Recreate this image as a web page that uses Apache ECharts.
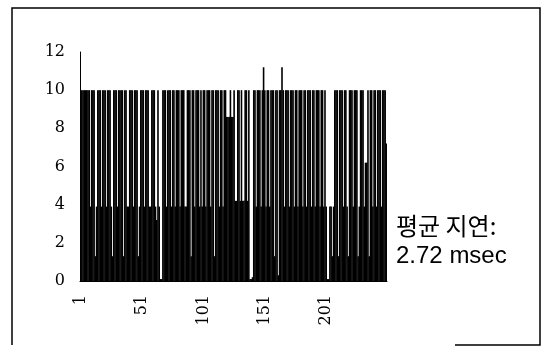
<!DOCTYPE html>
<html>
<head>
<meta charset="utf-8">
<script src="https://cdn.jsdelivr.net/npm/echarts@6/dist/echarts.min.js"></script>
<style>
  html, body { margin: 0; padding: 0; background: #fff; }
  #chart { width: 548px; height: 356px; }
</style>
</head>
<body>
<div id="chart"></div>
<script>
// delay per sample (msec)
const delays = [
  10, 10, 10, 10, 10, 10, 10, 10, 3.9, 10,
  10, 10, 1.3, 3.9, 10, 10, 10, 3.9, 10, 10,
  10, 3.9, 10, 10, 10, 3.9, 1.3, 10, 10, 10,
  3.9, 10, 10, 10, 10, 1.3, 10, 10, 3.9, 3.9,
  10, 10, 10, 3.9, 10, 10, 10, 1.3, 3.9, 10,
  10, 10, 3.9, 10, 10, 10, 3.9, 3.9, 10, 10,
  10, 3.9, 3.2, 10, 3.9, 0.1, 0.1, 10, 10, 10,
  3.9, 10, 10, 10, 3.9, 10, 10, 3.9, 10, 10,
  10, 3.9, 10, 10, 10, 3.9, 3.9, 10, 10, 10,
  1.3, 10, 10, 3.9, 10, 10, 10, 3.9, 10, 3.9,
  10, 10, 3.9, 10, 10, 10, 3.9, 10, 10, 1.3,
  10, 10, 10, 3.9, 10, 10, 3.9, 10, 10, 8.6,
  8.6, 8.6, 10, 8.6, 8.6, 10, 4.2, 4.2, 10, 10,
  4.2, 10, 4.2, 4.2, 10, 10, 4.2, 10, 0.1, 0.1,
  0.2, 10, 10, 3.9, 10, 10, 10, 3.9, 10, 11.2,
  10, 3.9, 10, 10, 3.9, 10, 10, 10, 1.3, 10,
  10, 0.3, 10, 10, 11.2, 10, 3.9, 10, 10, 10,
  3.9, 10, 10, 10, 3.9, 10, 10, 3.9, 10, 10,
  10, 3.9, 10, 10, 3.9, 10, 10, 10, 3.9, 10,
  10, 3.9, 10, 10, 10, 3.9, 10, 10, 3.9, 10,
  3.9, 0.1, 0.1, 3.9, 3.9, 1.3, 3.9, 10, 10, 10,
  1.3, 10, 10, 10, 3.9, 10, 10, 3.9, 1.3, 10,
  10, 10, 3.9, 10, 10, 10, 1.3, 3.9, 10, 10,
  10, 3.9, 6.2, 6.2, 10, 1.3, 10, 10, 3.9, 10,
  10, 3.9, 10, 10, 10, 3.9, 10, 10, 10, 7.2
];

// sample numbers 1..N
const samples = delays.map((v, i) => String(i + 1));

const noteLine1 = '평균 지연:';
const noteLine2 = '2.72 msec';

const chart = echarts.init(document.getElementById('chart'));

chart.setOption({
  animation: false,
  backgroundColor: '#fff',
  grid: {
    left: 80,
    right: 161,
    top: 52,
    bottom: 75
  },
  xAxis: {
    type: 'category',
    data: samples,
    axisLine: { show: true, lineStyle: { color: '#000', width: 1 } },
    axisTick: { show: false },
    axisLabel: {
      interval: 49,
      rotate: 90,
      margin: 14,
      color: '#000',
      fontFamily: 'DejaVu Serif',
      fontSize: 16
    },
    splitLine: { show: false }
  },
  yAxis: {
    type: 'value',
    min: 0,
    max: 12,
    interval: 2,
    axisLine: { show: true, lineStyle: { color: '#000', width: 1 } },
    axisTick: { show: false },
    axisLabel: {
      margin: 15,
      color: '#000',
      fontFamily: 'DejaVu Serif',
      fontSize: 16
    },
    splitLine: { show: false }
  },
  series: [
    {
      type: 'bar',
      data: delays,
      barWidth: 1.6,
      itemStyle: { color: '#000' }
    }
  ],
  graphic: [
    {
      type: 'polyline',
      shape: { points: [[455, 345], [540, 345], [540, 8], [12, 8], [12, 345]] },
      style: { stroke: '#000', lineWidth: 1.5, fill: null }
    },
    {
      type: 'text',
      left: 396,
      top: 214,
      style: {
        text: noteLine1,
        fill: '#000',
        font: '24px "Noto Sans CJK KR", sans-serif'
      }
    },
    {
      type: 'text',
      left: 396,
      top: 244,
      style: {
        text: noteLine2,
        fill: '#000',
        font: '24px "Liberation Sans", Arial, sans-serif'
      }
    }
  ]
});
</script>
</body>
</html>
